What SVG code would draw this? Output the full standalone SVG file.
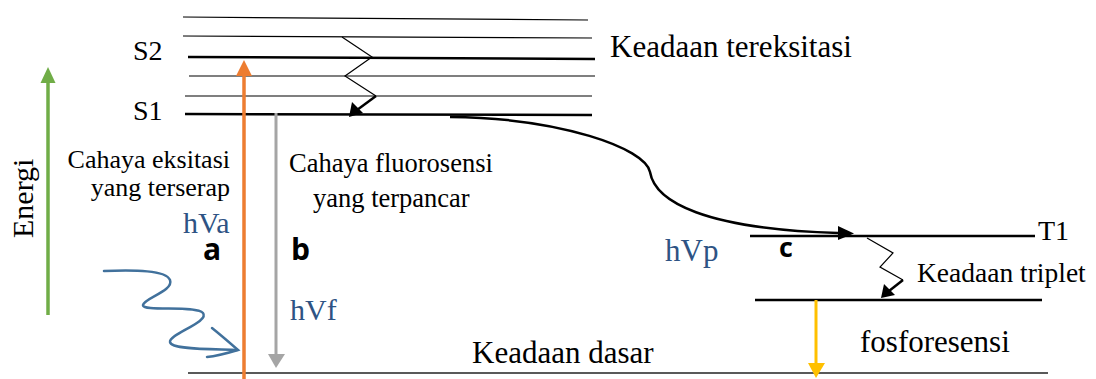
<svg xmlns="http://www.w3.org/2000/svg" width="1096" height="379" viewBox="0 0 1096 379">
  <defs>
    <style>
      .lvl { stroke: #000; fill: none; }
      .thin { stroke-width: 1.2; }
      .thick { stroke-width: 2.5; }
      .serif { font-family: "Liberation Serif", "Times New Roman", serif; fill: #000; }
      .blue { fill: #2E5384; }
      .bold { font-family: "Open Sans", "Liberation Sans", sans-serif; font-weight: bold; fill: #000; }
    </style>
    <marker id="headBlack" viewBox="0 0 10 10" refX="9" refY="5" markerWidth="6" markerHeight="5" markerUnits="strokeWidth" orient="auto">
      <path d="M0,0 L10,5 L0,10 z" fill="#000"/>
    </marker>
  </defs>

  <!-- energy levels -->
  <g id="levels">
    <line class="lvl thin" x1="183" y1="17" x2="588" y2="20"/>
    <line class="lvl thin" x1="183" y1="36" x2="592" y2="38"/>
    <line class="lvl thick" x1="188" y1="57" x2="595" y2="59"/>
    <line class="lvl thin" x1="189" y1="76" x2="595" y2="76"/>
    <line class="lvl thin" x1="185" y1="96" x2="592" y2="96"/>
    <line class="lvl thick" x1="185" y1="114" x2="592" y2="115"/>
    <line class="lvl thick" x1="750" y1="236" x2="1035" y2="236"/>
    <line class="lvl thick" x1="755" y1="300" x2="1042" y2="300"/>
    <line x1="188" y1="373" x2="1048" y2="373" stroke="#595959" stroke-width="2"/>
  </g>

  <!-- transitions -->
  <g id="connectors">
    <!-- energy axis -->
    <line x1="48" y1="315" x2="48" y2="80" stroke="#70AD47" stroke-width="3.5"/>
    <polygon points="48,67 40.5,83 55.5,83" fill="#70AD47"/>
    <!-- absorption -->
    <line x1="244" y1="379" x2="244" y2="72" stroke="#ED7D31" stroke-width="3.5"/>
    <polygon points="244,60 236,76 252,76" fill="#ED7D31"/>
    <!-- fluorescence -->
    <line x1="276" y1="113" x2="276" y2="356" stroke="#A5A5A5" stroke-width="3"/>
    <polygon points="276,368 268,354 285,354" fill="#A5A5A5"/>
    <!-- phosphorescence -->
    <line x1="816" y1="300" x2="816" y2="365" stroke="#FFC000" stroke-width="3"/>
    <polygon points="816,378 808,363 825,363" fill="#FFC000"/>
    <!-- vibrational relaxation S -->
    <polyline class="lvl thin" points="342,37 372,57 345,76 376,96"/>
    <line class="lvl" x1="376" y1="96" x2="357" y2="110" stroke-width="2.5"/>
    <polygon points="349,117 352,102 363,113" fill="#000"/>
    <!-- vibrational relaxation T -->
    <polyline class="lvl thin" points="867,238 893,253 880,267 903,280"/>
    <line class="lvl" x1="903" y1="280" x2="889" y2="291" stroke-width="2.5"/>
    <polygon points="881,298 884,284 895,295" fill="#000"/>
    <!-- intersystem crossing -->
    <path class="lvl" d="M450,117 C560,118 645,148 650,172 C655,202 705,229 838,233" stroke-width="2.5"/>
    <polygon points="854,233.5 838,226 838,240" fill="#000"/>
    <!-- incoming light -->
    <path d="M104,271 C135,270 166,270 170,280 C174,291 144,298 143,305 C142,312 196,305 203,313 C210,322 169,334 170,342 C171,350 215,349 237,350" fill="none" stroke="#41719C" stroke-width="2.5" stroke-linecap="round"/>
    <path d="M212,328 C222,336 230,343 238,350 C228,353 218,356 207,357" fill="none" stroke="#41719C" stroke-width="2.5" stroke-linecap="round"/>
  </g>

  <g id="label-s2"><text class="serif" x="133" y="60" font-size="28">S2</text></g>
  <g id="label-s1"><text class="serif" x="133" y="120" font-size="28">S1</text></g>
  <g id="label-excited"><text class="serif" x="610" y="57" font-size="31">Keadaan tereksitasi</text></g>
  <g id="label-energy"><text class="serif" transform="translate(33,238) rotate(-90)" font-size="30">Energi</text></g>

  <g id="node-a">
    <text class="serif" x="230" y="168" font-size="26" text-anchor="end">Cahaya eksitasi</text>
    <text class="serif" x="230" y="196" font-size="26" text-anchor="end">yang terserap</text>
    <text class="serif blue" x="183" y="233" font-size="30">hVa</text>
    <text class="bold" x="203" y="260" font-size="30">a</text>
  </g>

  <g id="node-b">
    <text class="serif" x="289" y="172" font-size="26.5">Cahaya fluorosensi</text>
    <text class="serif" x="313" y="207" font-size="26.5">yang terpancar</text>
    <text class="bold" x="291" y="260" font-size="30">b</text>
    <text class="serif blue" x="290" y="320" font-size="30">hVf</text>
  </g>

  <g id="label-ground"><text class="serif" x="472" y="363" font-size="31">Keadaan dasar</text></g>

  <g id="node-c">
    <text class="serif blue" x="665" y="261" font-size="31">hVp</text>
    <text class="bold" x="779" y="257" font-size="27">c</text>
  </g>

  <g id="label-t1"><text class="serif" x="1038" y="240" font-size="28">T1</text></g>
  <g id="label-triplet"><text class="serif" x="917" y="282" font-size="27.5">Keadaan triplet</text></g>
  <g id="label-phos"><text class="serif" x="860" y="352" font-size="31">fosforesensi</text></g>
</svg>
